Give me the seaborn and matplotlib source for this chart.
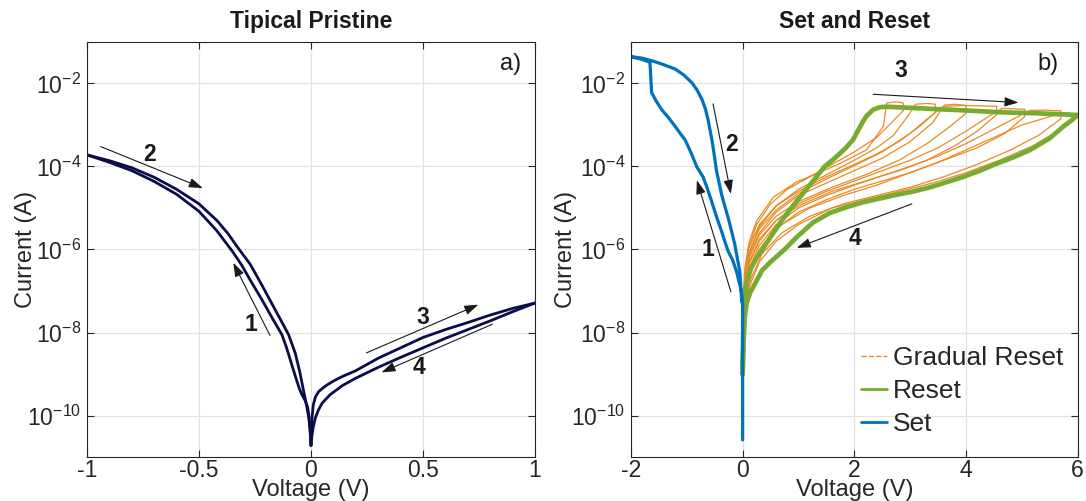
import numpy as np
import matplotlib
matplotlib.use("Agg")
import matplotlib.pyplot as plt
from matplotlib.lines import Line2D
import seaborn as sns
import pandas as pd

# ---------------- data (voltage in V, current as log10(A)) ----------------
# Panel a) pristine device
pr_sweep1_V = [0.0, -0.003, -0.008, -0.015, -0.025, -0.04, -0.052, -0.07, -0.09, -0.11, -0.13, -0.17, -0.22, -0.272,
               -0.31, -0.35, -0.42, -0.5, -0.6, -0.7, -0.8, -0.9, -1.0]
pr_sweep1_logI = [-10.72, -10.4, -10.05, -9.8, -9.65, -9.5, -9.35, -9.05, -8.7, -8.35, -8.05, -7.68, -7.2, -6.73,
                  -6.37, -6.05, -5.55, -5.08, -4.67, -4.36, -4.1, -3.9, -3.72]
pr_sweep2_V = [-1.0, -0.9, -0.8, -0.7, -0.6, -0.5, -0.42, -0.37, -0.33, -0.272, -0.22, -0.17, -0.13, -0.1,
               -0.07, -0.05, -0.034, -0.02, -0.01, -0.004, 0.0]
pr_sweep2_logI = [-3.72, -3.86, -4.03, -4.26, -4.55, -4.9, -5.3, -5.62, -5.93, -6.35, -6.85, -7.35, -7.75, -8.05,
                  -8.5, -8.95, -9.38, -9.75, -10.05, -10.35, -10.72]
pr_sweep3_V = [0.0, 0.002, 0.005, 0.01, 0.02, 0.035, 0.05, 0.07, 0.1, 0.14, 0.2, 0.3, 0.4, 0.5, 0.6, 0.7, 0.8, 0.9, 1.0]
pr_sweep3_logI = [-10.72, -10.4, -10.05, -9.75, -9.55, -9.42, -9.35, -9.27, -9.17, -9.06, -8.92, -8.62, -8.37,
                  -8.12, -7.93, -7.76, -7.58, -7.42, -7.29]
pr_sweep4_V = [1.0, 0.9, 0.8, 0.7, 0.6, 0.5, 0.4, 0.3, 0.2, 0.14, 0.085, 0.05, 0.033, 0.02, 0.01, 0.004, 0.0]
pr_sweep4_logI = [-7.29, -7.50, -7.72, -7.93, -8.14, -8.37, -8.6, -8.84, -9.1, -9.28, -9.50, -9.7, -9.87, -10.05,
                  -10.28, -10.5, -10.72]

# Panel b) set (0 -> -2 -> 0)
set_V = [0.0, 0.0, -0.02, -0.11, -0.18, -0.26, -0.32, -0.38, -0.47, -0.56, -0.64, -0.71, -0.82, -0.92, -1.03,
         -1.12, -1.21, -1.33, -1.45, -1.55, -1.63, -1.66,
         -1.8, -2.02, -1.8, -1.63, -1.45, -1.21, -1.05, -0.91, -0.82, -0.73, -0.67, -0.62, -0.58, -0.54, -0.5,
         -0.47, -0.42, -0.38, -0.32, -0.26, -0.2, -0.14, -0.09, -0.05, -0.02, 0.0]
set_logI = [-10.59, -7.34, -7.02, -6.53, -6.25, -6.04, -5.8, -5.55, -5.2, -4.82, -4.5, -4.25, -4.01, -3.68, -3.36,
            -3.2, -3.03, -2.82, -2.63, -2.42, -2.22, -1.49,
            -1.42, -1.35, -1.39, -1.45, -1.53, -1.65, -1.8, -1.98, -2.15, -2.38, -2.6, -2.87, -3.15, -3.44, -3.8,
            -4.09, -4.4, -4.66, -4.95, -5.23, -5.55, -5.88, -6.25, -6.53, -7.18, -7.34]

# Panel b) full reset (0 -> 6 -> 0)
reset_up_V = [0.0, 0.005, 0.01, 0.03, 0.07, 0.15, 0.25, 0.4, 0.55, 0.7, 0.9, 1.05, 1.2, 1.35, 1.47, 1.65, 1.85,
              1.98, 2.06, 2.14, 2.22, 2.34, 2.46, 2.58, 2.9, 3.36, 4.0, 4.55, 5.3, 6.0]
reset_up_logI = [-9.0, -8.4, -8.0, -7.3, -6.8, -6.45, -6.2, -5.9, -5.6, -5.3, -4.95, -4.7, -4.45, -4.2, -4.0,
                 -3.8, -3.55, -3.35, -3.15, -2.95, -2.78, -2.63, -2.57, -2.56, -2.58, -2.61, -2.65, -2.69, -2.72, -2.76]
reset_dn_V = [6.0, 5.9, 5.75, 5.5, 5.15, 4.85, 4.55, 4.25, 3.95, 3.65, 3.36, 3.06, 2.76, 2.46, 2.16, 1.86, 1.56,
              1.26, 0.97, 0.75, 0.5, 0.35, 0.25, 0.13, 0.07, 0.04, 0.015, 0.0]
reset_dn_logI = [-2.76, -2.88, -3.03, -3.32, -3.60, -3.78, -3.93, -4.1, -4.25, -4.38, -4.50, -4.6, -4.68, -4.77,
                 -4.86, -4.98, -5.12, -5.35, -5.7, -6.0, -6.3, -6.5, -6.75, -7.05, -7.3, -7.6, -8.3, -9.0]

# Panel b) gradual reset cycles (increasing stop voltage)
gr1_up_V = [0.0, 0.02, 0.04, 0.12, 0.25, 0.55, 0.97, 1.33, 1.74, 2.22, 2.52, 2.58, 2.75, 2.88]
gr1_up_logI = [-8.0, -7.0, -6.45, -5.8, -5.31, -4.74, -4.37, -4.17, -3.93, -3.60, -3.03, -2.47, -2.44, -2.47]
gr1_dn_V = [2.88, 2.7, 2.4, 2.0, 1.6, 1.2, 0.8, 0.5, 0.25, 0.1, 0.03, 0.0]
gr1_dn_logI = [-2.65, -2.9, -3.3, -3.65, -3.95, -4.25, -4.55, -4.9, -5.4, -6.0, -6.9, -8.0]
gr2_up_V = [0.0, 0.03, 0.1, 0.3, 0.6, 1.0, 1.5, 2.0, 2.4, 2.7, 2.95, 3.1, 3.3, 3.45]
gr2_up_logI = [-8.0, -6.8, -6.0, -5.4, -4.95, -4.55, -4.2, -3.85, -3.55, -3.25, -2.8, -2.5, -2.48, -2.5]
gr2_dn_V = [3.45, 3.2, 2.8, 2.4, 2.0, 1.5, 1.0, 0.6, 0.3, 0.12, 0.04, 0.0]
gr2_dn_logI = [-2.7, -3.0, -3.4, -3.7, -3.95, -4.25, -4.6, -4.95, -5.45, -6.1, -6.9, -8.0]
gr3_up_V = [0.0, 0.03, 0.1, 0.3, 0.6, 1.0, 1.5, 2.0, 2.5, 3.0, 3.4, 3.62, 3.8, 4.0]
gr3_up_logI = [-8.1, -6.9, -6.1, -5.5, -5.05, -4.65, -4.3, -3.98, -3.65, -3.2, -2.75, -2.52, -2.5, -2.53]
gr3_dn_V = [4.0, 3.7, 3.3, 2.8, 2.2, 1.6, 1.0, 0.6, 0.3, 0.12, 0.04, 0.0]
gr3_dn_logI = [-2.72, -3.05, -3.45, -3.85, -4.2, -4.5, -4.85, -5.2, -5.65, -6.2, -7.0, -8.1]
gr4_up_V = [0.0, 0.03, 0.1, 0.3, 0.6, 1.0, 1.5, 2.0, 2.5, 3.0, 3.4, 3.6, 4.0, 4.55]
gr4_up_logI = [-8.2, -7.0, -6.2, -5.6, -5.1, -4.7, -4.4, -4.1, -3.8, -3.4, -2.95, -2.55, -2.53, -2.55]
gr4_dn_V = [4.55, 4.2, 3.8, 3.3, 2.8, 2.2, 1.6, 1.0, 0.6, 0.3, 0.12, 0.04, 0.0]
gr4_dn_logI = [-2.75, -3.15, -3.5, -3.85, -4.1, -4.35, -4.6, -4.95, -5.3, -5.75, -6.3, -7.1, -8.2]
gr5_up_V = [0.0, 0.03, 0.1, 0.3, 0.6, 1.0, 1.5, 2.0, 2.5, 3.0, 3.5, 4.0, 4.4, 4.65, 5.05]
gr5_up_logI = [-8.3, -7.2, -6.4, -5.8, -5.3, -4.9, -4.6, -4.35, -4.1, -3.85, -3.55, -3.15, -2.8, -2.6, -2.62]
gr5_dn_V = [5.05, 4.7, 4.2, 3.6, 3.0, 2.4, 1.8, 1.2, 0.7, 0.35, 0.15, 0.05, 0.0]
gr5_dn_logI = [-2.8, -3.2, -3.55, -3.85, -4.15, -4.45, -4.7, -5.0, -5.4, -5.9, -6.5, -7.3, -8.4]
gr6_up_V = [0.0, 0.03, 0.1, 0.3, 0.6, 1.0, 1.5, 2.0, 2.5, 3.0, 3.5, 4.0, 4.5, 5.0, 5.15, 5.4, 5.7]
gr6_up_logI = [-8.4, -7.25, -6.5, -5.9, -5.4, -5.0, -4.7, -4.45, -4.22, -4.0, -3.75, -3.45, -3.1, -2.75, -2.65,
               -2.64, -2.66]
gr6_dn_V = [5.7, 5.3, 4.8, 4.2, 3.6, 3.0, 2.4, 1.8, 1.2, 0.7, 0.35, 0.15, 0.05, 0.0]
gr6_dn_logI = [-2.85, -3.25, -3.6, -3.95, -4.25, -4.5, -4.7, -4.9, -5.2, -5.6, -6.1, -6.7, -7.4, -8.5]
gr7_up_V = [0.0, 0.03, 0.1, 0.3, 0.6, 1.0, 1.5, 2.0, 2.5, 3.0, 3.5, 4.0, 4.5, 5.0, 5.5, 5.75, 6.0]
gr7_up_logI = [-8.4, -7.3, -6.6, -6.0, -5.5, -5.1, -4.8, -4.55, -4.35, -4.15, -3.9, -3.6, -3.3, -3.0, -2.8, -2.7,
               -2.74]
gr7_dn_V = [6.0, 5.7, 5.2, 4.6, 4.0, 3.4, 2.8, 2.2, 1.6, 1.0, 0.6, 0.3, 0.12, 0.04, 0.0]
gr7_dn_logI = [-2.76, -3.1, -3.5, -3.85, -4.15, -4.4, -4.6, -4.8, -5.0, -5.4, -5.8, -6.3, -6.9, -7.6, -8.5]

left_xticks = [-1, -0.5, 0, 0.5, 1]
left_xticklabels = ["-1", "-0.5", "0", "0.5", "1"]
right_xticks = [-2, 0, 2, 4, 6]
right_xticklabels = ["-2", "0", "2", "4", "6"]
yticks = [1e-10, 1e-8, 1e-6, 1e-4, 1e-2]
yticklabels = [r"$10^{-10}$", r"$10^{-8}$", r"$10^{-6}$", r"$10^{-4}$", r"$10^{-2}$"]
legend_labels = ["Gradual Reset", "Reset", "Set"]

# ---------------- style ----------------
sns.set_theme(style="ticks")
plt.rcParams['font.family'] = ['Liberation Sans', 'DejaVu Sans']
plt.rcParams['mathtext.default'] = 'regular'
plt.rcParams['axes.unicode_minus'] = False

NAVY = '#0c0c4a'
BLUE = '#0072BD'
GREEN = '#77AC30'
ORANGE = '#E98A24'
TXT = '#262626'
FS = 16.5

fig = plt.figure(figsize=(10.86, 5.01), dpi=100)
axL = fig.add_axes([0.0801, 0.0878, 0.4125, 0.8284])
axR = fig.add_axes([0.581, 0.0878, 0.4113, 0.8284])


def draw(ax, V, logI, color, lw):
    df = pd.DataFrame({'V': V, 'I': np.power(10.0, np.asarray(logI, dtype=float))})
    sns.lineplot(data=df, x='V', y='I', sort=False, estimator=None, color=color,
                 lw=lw, ax=ax, legend=False)


def arrow(ax, x0, l0, x1, l1):
    ax.annotate('', xy=(x1, 10 ** l1), xytext=(x0, 10 ** l0),
                arrowprops=dict(arrowstyle='-|>,head_length=0.7,head_width=0.24',
                                color='k', lw=0.8, shrinkA=0, shrinkB=0,
                                mutation_scale=12))


def label(ax, x, l, s):
    ax.text(x, 10 ** l, s, fontsize=FS, fontweight='bold', ha='center', va='center', color='k')


# Panel a
for V, L in [(pr_sweep1_V, pr_sweep1_logI), (pr_sweep2_V, pr_sweep2_logI),
             (pr_sweep3_V, pr_sweep3_logI), (pr_sweep4_V, pr_sweep4_logI)]:
    draw(axL, V, L, NAVY, 2.0)

# Panel b
for V, L in [(gr1_up_V + gr1_dn_V, gr1_up_logI + gr1_dn_logI),
             (gr2_up_V + gr2_dn_V, gr2_up_logI + gr2_dn_logI),
             (gr3_up_V + gr3_dn_V, gr3_up_logI + gr3_dn_logI),
             (gr4_up_V + gr4_dn_V, gr4_up_logI + gr4_dn_logI),
             (gr5_up_V + gr5_dn_V, gr5_up_logI + gr5_dn_logI),
             (gr6_up_V + gr6_dn_V, gr6_up_logI + gr6_dn_logI),
             (gr7_up_V + gr7_dn_V, gr7_up_logI + gr7_dn_logI)]:
    draw(axR, V, L, ORANGE, 0.9)
draw(axR, reset_up_V + reset_dn_V, reset_up_logI + reset_dn_logI, GREEN, 3.4)
draw(axR, set_V, set_logI, BLUE, 2.3)

for ax, xt, xtl, xl in [(axL, left_xticks, left_xticklabels, (-1, 1)),
                        (axR, right_xticks, right_xticklabels, (-2, 6))]:
    ax.set_yscale('log')
    ax.set_xlim(*xl)
    ax.set_ylim(1e-11, 1e-1)
    ax.set_xticks(xt)
    ax.set_xticklabels(xtl)
    ax.set_yticks(yticks)
    ax.set_yticklabels(yticklabels)
    ax.yaxis.set_minor_locator(matplotlib.ticker.NullLocator())
    ax.tick_params(which='both', direction='in', top=True, right=True, length=5,
                   width=0.8, labelsize=FS, colors=TXT, pad=4)
    ax.tick_params(axis='x', pad=1.5)
    ax.grid(True, which='major', color='#e2e2e2', lw=0.9)
    ax.set_axisbelow(True)
    for sp in ax.spines.values():
        sp.set_color(TXT)
        sp.set_linewidth(0.8)
    ax.set_xlabel('Voltage (V)', fontsize=17, color=TXT, labelpad=-2.5)

axL.set_ylabel('Current (A)', fontsize=17, color=TXT, labelpad=-7)
axR.set_ylabel('Current (A)', fontsize=17, color=TXT, labelpad=-4)

axL.set_title('Tipical Pristine', fontsize=FS, fontweight='bold', color='k', pad=10)
axR.set_title('Set and Reset', fontsize=FS, fontweight='bold', color='k', pad=10)
axL.text(0.969, 0.947, 'a)', transform=axL.transAxes, ha='right', va='center', fontsize=17, color='k')
axR.text(0.958, 0.947, 'b)', transform=axR.transAxes, ha='right', va='center', fontsize=17, color='k')

# annotations panel a
arrow(axL, -0.939, -3.52, -0.483, -4.52); label(axL, -0.719, -3.70, '2')
arrow(axL, -0.183, -8.07, -0.347, -6.32); label(axL, -0.268, -7.81, '1')
arrow(axL, 0.248, -8.49, 0.747, -7.33); label(axL, 0.498, -7.63, '3')
arrow(axL, 0.81, -7.80, 0.315, -8.96); label(axL, 0.483, -8.85, '4')

# annotations panel b
arrow(axR, -0.53, -2.49, -0.21, -4.66); label(axR, -0.20, -3.48, '2')
arrow(axR, -0.21, -7.02, -0.82, -4.33); label(axR, -0.63, -6.0, '1')
arrow(axR, 2.34, -2.26, 4.94, -2.46); label(axR, 2.83, -1.68, '3')
arrow(axR, 3.03, -4.90, 0.97, -5.96); label(axR, 2.01, -5.73, '4')

handles = [Line2D([], [], color=ORANGE, ls='--', lw=1.0),
           Line2D([], [], color=GREEN, lw=2.0),
           Line2D([], [], color=BLUE, lw=2.0)]
axR.legend(handles, legend_labels, loc='lower left', bbox_to_anchor=(0.515, 0.05),
           frameon=False, fontsize=19, handlelength=1.0, handletextpad=0.2,
           labelspacing=0.35, borderaxespad=0, borderpad=0)

fig.savefig('out.png', dpi=100)
